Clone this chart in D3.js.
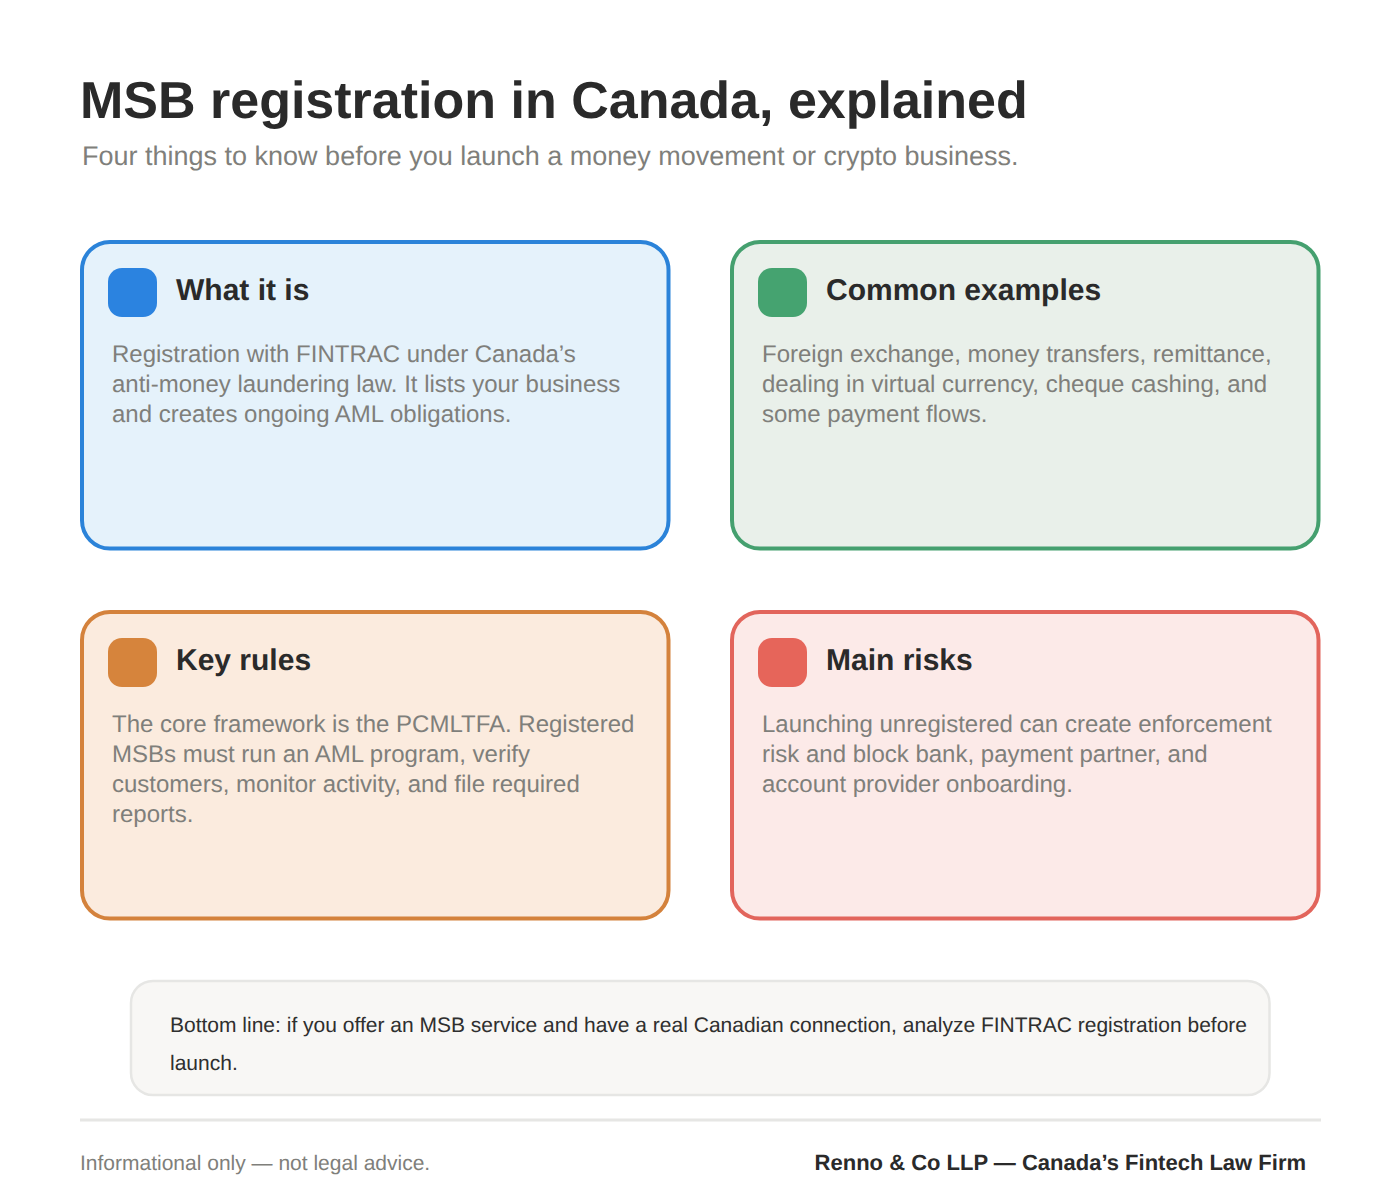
<!DOCTYPE html>
<html>
<head>
<meta charset="utf-8">
<script src="https://cdn.jsdelivr.net/npm/d3@7"></script>
<style>
html, body { margin: 0; padding: 0; background: #fff; }
text { font-family: "Liberation Sans", Arial, sans-serif; text-rendering: geometricPrecision; }
</style>
</head>
<body>
<div id="chart"></div>
<script>
const title = "MSB registration in Canada, explained";
const subtitle = "Four things to know before you launch a money movement or crypto business.";
const cardTitles = ["What it is", "Common examples", "Key rules", "Main risks"];
const cardLines = [
    ["Registration with FINTRAC under Canada’s", "anti-money laundering law. It lists your business", "and creates ongoing AML obligations."],
    ["Foreign exchange, money transfers, remittance,", "dealing in virtual currency, cheque cashing, and", "some payment flows."],
    ["The core framework is the PCMLTFA. Registered", "MSBs must run an AML program, verify", "customers, monitor activity, and file required", "reports."],
    ["Launching unregistered can create enforcement", "risk and block bank, payment partner, and", "account provider onboarding."]
];
const cardStroke = ["#2b83d9", "#45a06f", "#d4823c", "#e2655c"];
const iconFill = ["#2b83e0", "#45a370", "#d6843c", "#e6655a"];
const cardFill = ["#e5f2fb", "#e9f0ea", "#fbebde", "#fceae8"];
const bottomLines = ["Bottom line: if you offer an MSB service and have a real Canadian connection, analyze FINTRAC registration before", "launch."];
const footLeft = "Informational only — not legal advice.";
const footRight = "Renno & Co LLP — Canada’s Fintech Law Firm";

const svg = d3.select("#chart").append("svg")
    .attr("width", 1400)
    .attr("height", 1200)
    .style("display", "block");

svg.append("text").attr("x", 80).attr("y", 118)
    .attr("font-size", 52).attr("font-weight", 700).attr("fill", "#2a2a2a")
    .text(title);
svg.append("text").attr("x", 82).attr("y", 165)
    .attr("font-size", 27).attr("fill", "#7f7f7b")
    .text(subtitle);

// 2 x 2 grid of cards
let col = d3.scaleBand().domain([0, 1]).range([80, 1320]).paddingInner(60 / 650);
let row = d3.scaleBand().domain([0, 1]).range([240, 920]).paddingInner(60 / 370);

let card = svg.selectAll(".card")
    .data(cardTitles)
    .enter().append("g")
    .attr("class", "card")
    .attr("transform", function (d, i) {
        return "translate(" + col(i % 2) + "," + row(Math.floor(i / 2)) + ")";
    });

card.append("rect")
    .attr("x", 2).attr("y", 2)
    .attr("width", col.bandwidth() - 3.5)
    .attr("height", row.bandwidth() - 3.5)
    .attr("rx", 28)
    .attr("fill", function (d, i) { return cardFill[i]; })
    .attr("stroke", function (d, i) { return cardStroke[i]; })
    .attr("stroke-width", 4);

card.append("rect")
    .attr("x", 28).attr("y", 28)
    .attr("width", 49).attr("height", 49)
    .attr("rx", 14)
    .attr("fill", function (d, i) { return iconFill[i]; });

card.append("text")
    .attr("x", 96).attr("y", 60)
    .attr("font-size", 30).attr("font-weight", 700).attr("fill", "#2a2a2a")
    .text(function (d) { return d; });

card.each(function (d, i) {
    d3.select(this).selectAll(".line")
        .data(cardLines[i])
        .enter().append("text")
        .attr("class", "line")
        .attr("x", 32)
        .attr("y", function (l, j) { return 122 + j * 30; })
        .attr("font-size", 24).attr("fill", "#7f7f7b")
        .text(function (l) { return l; });
});

svg.append("rect")
    .attr("x", 131).attr("y", 981)
    .attr("width", 1138.5).attr("height", 114)
    .attr("rx", 22)
    .attr("fill", "#f8f7f5").attr("stroke", "#e6e6e4").attr("stroke-width", 2.5);

svg.selectAll(".bottom")
    .data(bottomLines)
    .enter().append("text")
    .attr("class", "bottom")
    .attr("x", 170)
    .attr("y", function (d, i) { return 1032 + i * 38; })
    .attr("font-size", 21).attr("fill", "#2f2f2f")
    .text(function (d) { return d; });

svg.append("line")
    .attr("x1", 80).attr("x2", 1321).attr("y1", 1120).attr("y2", 1120)
    .attr("stroke", "#e6e6e4").attr("stroke-width", 3);

svg.append("text").attr("x", 80).attr("y", 1170)
    .attr("font-size", 21).attr("fill", "#7f7f7b")
    .text(footLeft);
svg.append("text").attr("x", 1306).attr("y", 1170)
    .attr("text-anchor", "end")
    .attr("font-size", 22).attr("font-weight", 700).attr("fill", "#2a2a2a")
    .text(footRight);
</script>
</body>
</html>
